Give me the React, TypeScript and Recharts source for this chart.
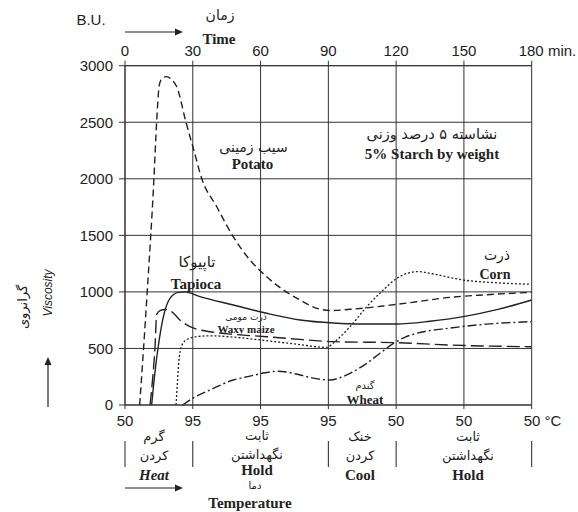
import React from 'react';
import { LineChart, Line, XAxis, YAxis, CartesianGrid } from 'recharts';

// axis ticks and labels
const minuteTicks = [0, 30, 60, 90, 120, 150, 180];
const minuteLabels = ['0', '30', '60', '90', '120', '150', '180 min.'];
const tempLabels = ['50', '95', '95', '95', '50', '50', '50 °C'];
const viscosityTicks = [0, 500, 1000, 1500, 2000, 2500, 3000];

// potato (dashed)
const potatoTime = [6.5, 9.8, 12.8, 14.0, 15.2, 16.5, 18.4, 20.5, 22.9, 27.0, 30.5, 34, 40.6, 47.9, 55.3, 62.7, 70.1, 77.5, 84.9, 91, 99.6, 114.3, 129.1, 143.9, 160, 180];
const potatoBU = [0, 990, 2000, 2500, 2830, 2890, 2903, 2880, 2814, 2500, 2250, 2000, 1753, 1488, 1282, 1134, 1017, 928, 855, 835, 846, 875, 913, 952, 975, 996];

// tapioca (solid)
const tapiocaTime = [11.8, 13.2, 14.7, 17, 19.9, 23.6, 26.5, 33.2, 47.9, 62.7, 77.5, 92.2, 104, 120.3, 135, 149.8, 165, 180];
const tapiocaBU = [0, 280, 515, 781, 943, 996, 1000, 958, 884, 811, 752, 725, 716, 716, 740, 781, 845, 928];

// waxy maize (long dash)
const waxyTime = [11.1, 12.3, 13.3, 14.0, 15.5, 17.7, 19.9, 22, 24.3, 28.8, 37.6, 47.9, 62.7, 77.5, 92.2, 120.3, 143.9, 180];
const waxyBU = [0, 250, 515, 800, 834, 845, 835, 800, 752, 692, 648, 625, 604, 580, 560, 551, 530, 515];

// corn (dotted)
const cornTime = [22.6, 23.2, 24, 25.5, 28, 32, 38, 48, 60, 75, 89, 93.7, 99.6, 107, 114.3, 120.3, 125, 129.8, 135, 149.8, 165, 180];
const cornBU = [0, 200, 420, 540, 585, 605, 612, 600, 575, 540, 510, 575, 692, 869, 1017, 1120, 1165, 1180, 1164, 1105, 1080, 1067];

// wheat (dash-dot)
const wheatTime = [25.5, 30, 37.6, 47.9, 55.3, 62, 67.2, 72, 77.5, 84, 90.7, 95, 99.6, 107, 113, 118.8, 124, 129.1, 143.9, 160, 180];
const wheatBU = [0, 60, 133, 221, 255, 285, 298, 290, 265, 235, 221, 240, 280, 368, 460, 545, 600, 634, 680, 715, 737];

const pts = (t: number[], v: number[]) => t.map((x, i) => ({ t: x, v: v[i] }));

const INK = '#222';
const SANS = '"Liberation Sans", Arial, sans-serif';
const SERIF = '"Liberation Serif", "Times New Roman", serif';
const FA = '"DejaVu Sans", sans-serif';

const W = 578;
const H = 512;

// plot frame in page coordinates (used for the phase separators under the chart)
const plotLeft = 125;
const plotRight = 531.7;
const plotTop = 65.7;
const plotBottom = 405;
const pxPerMin = (plotRight - plotLeft) / 180;
const phaseBounds = [0, 30, 90, 120, 180];

const TimeTick = (props: any) => {
  const { x, y, payload } = props;
  const i = minuteTicks.indexOf(payload.value);
  const last = payload.value === 180;
  return (
    <text x={last ? x - 13 : x} y={y} dy={-3} textAnchor={last ? 'start' : 'middle'} fill={INK} fontSize={15} fontFamily={SANS}>
      {minuteLabels[i]}
    </text>
  );
};

const TempTick = (props: any) => {
  const { x, y, payload } = props;
  const i = minuteTicks.indexOf(payload.value);
  const last = payload.value === 180;
  return (
    <text x={last ? x - 8 : x} y={y} dy={15} textAnchor={last ? 'start' : 'middle'} fill={INK} fontSize={15} fontFamily={SANS}>
      {tempLabels[i]}
    </text>
  );
};

const fa = (x: number, y: number, s: string, size = 13) => (
  <text x={x} y={y} textAnchor="middle" dominantBaseline="central" fontFamily={FA} fontSize={size} fill={INK}>{s}</text>
);
const en = (x: number, y: number, s: string, size = 15, italic = false) => (
  <text x={x} y={y} textAnchor="middle" dominantBaseline="central" fontFamily={SERIF} fontWeight="bold" fontStyle={italic ? 'italic' : 'normal'} fontSize={size} fill={INK}>{s}</text>
);

const Overlay = () => (
  <svg width={W} height={H} style={{ position: 'absolute', left: 0, top: 0, pointerEvents: 'none' }}>
    <text x={91} y={19} textAnchor="middle" dominantBaseline="central" fontFamily={SANS} fontSize={15} fill={INK}>B.U.</text>
    {fa(220, 15, 'زمان', 14)}
    <line x1={125} y1={32} x2={176} y2={32} stroke={INK} strokeWidth={1.2} />
    <polygon points="183,32 175,28.5 175,35.5" fill={INK} />
    {en(219, 39, 'Time')}

    <text transform="translate(48,293) rotate(-90)" textAnchor="middle" dominantBaseline="central" fontFamily={SANS} fontStyle="italic" fontSize={12} fill={INK}>Viscosity</text>
    <text transform="translate(22,307) rotate(-90)" textAnchor="middle" dominantBaseline="central" fontFamily={FA} fontSize={13} fill={INK}>گرانروی</text>
    <line x1={48} y1={407} x2={48} y2={364} stroke={INK} strokeWidth={1.2} />
    <polygon points="48,357 44.5,365 51.5,365" fill={INK} />

    {fa(253.5, 147, 'سیب زمینی', 14)}
    {en(252.5, 164, 'Potato')}
    {fa(197, 262, 'تاپیوکا', 15)}
    {en(196, 284, 'Tapioca')}
    {fa(246, 317, 'ذرت مومی', 9)}
    {en(246, 329, 'Waxy maize', 11)}
    {fa(432, 134, 'نشاسته ۵ درصد وزنی', 14.5)}
    {en(432, 154, '5% Starch by weight')}
    {fa(497, 255, 'ذرت', 14)}
    {en(495, 274, 'Corn', 14)}
    {fa(365, 385, 'گندم', 10)}
    {en(365, 399, 'Wheat', 13)}

    {phaseBounds.map((m) => (
      <line key={m} x1={plotLeft + m * pxPerMin} y1={441} x2={plotLeft + m * pxPerMin} y2={467} stroke={INK} strokeWidth={1} />
    ))}
    {fa(154, 436, 'گرم', 13)}
    {fa(154, 455, 'کردن', 13)}
    {en(154, 475, 'Heat', 15, true)}
    {fa(257, 435, 'ثابت', 13)}
    {fa(257, 454, 'نگهداشتن', 13)}
    {en(257, 470, 'Hold')}
    {fa(255, 485, 'دما', 10)}
    {fa(360, 436, 'خنک', 13)}
    {fa(360, 455, 'کردن', 13)}
    {en(360, 475, 'Cool')}
    {fa(468, 436, 'ثابت', 13)}
    {fa(468, 455, 'نگهداشتن', 13)}
    {en(468, 475, 'Hold')}
    <line x1={125} y1={488} x2={176} y2={488} stroke={INK} strokeWidth={1.2} />
    <polygon points="183,488 175,484.5 175,491.5" fill={INK} />
    {en(250, 503, 'Temperature')}
  </svg>
);

const App: React.FC = () => {
  const common = { type: 'monotone' as const, dataKey: 'v', xAxisId: 'temp', stroke: INK, strokeWidth: 1.4, dot: false, isAnimationActive: false };
  return (
    <div style={{ position: 'relative', width: W, height: H, background: '#fff', overflow: 'hidden' }}>
      <style>{'html,body{margin:0;padding:0;overflow:hidden;background:#fff;}'}</style>
      <LineChart width={W} height={H}
        margin={{ top: plotTop - 30, right: W - plotRight, bottom: H - plotBottom - 30, left: plotLeft - 60 }}>
        <CartesianGrid xAxisId="temp" stroke="#333" strokeWidth={1} />
        <XAxis xAxisId="temp" dataKey="t" type="number" domain={[0, 180]} ticks={minuteTicks} orientation="bottom"
          height={30} tickSize={4} tickMargin={2} tick={<TempTick />} stroke="#333" allowDataOverflow />
        <XAxis xAxisId="time" dataKey="t" type="number" domain={[0, 180]} ticks={minuteTicks} orientation="top"
          height={30} tickSize={5} tickMargin={2} tick={<TimeTick />} stroke="#333" allowDataOverflow />
        <YAxis type="number" domain={[0, 3000]} ticks={viscosityTicks} width={60} tickSize={6} tickMargin={6}
          stroke="#333" tick={{ fill: INK, fontSize: 15, fontFamily: SANS }} />
        <Line {...common} data={pts(potatoTime, potatoBU)} strokeDasharray="7 4" name="Potato" />
        <Line {...common} data={pts(tapiocaTime, tapiocaBU)} name="Tapioca" />
        <Line {...common} data={pts(waxyTime, waxyBU)} strokeDasharray="13 5" name="Waxy maize" />
        <Line {...common} data={pts(cornTime, cornBU)} strokeDasharray="2 2" strokeWidth={1.3} name="Corn" />
        <Line {...common} data={pts(wheatTime, wheatBU)} strokeDasharray="9 3 2 3" name="Wheat" />
      </LineChart>
      <Overlay />
    </div>
  );
};

export default App;
